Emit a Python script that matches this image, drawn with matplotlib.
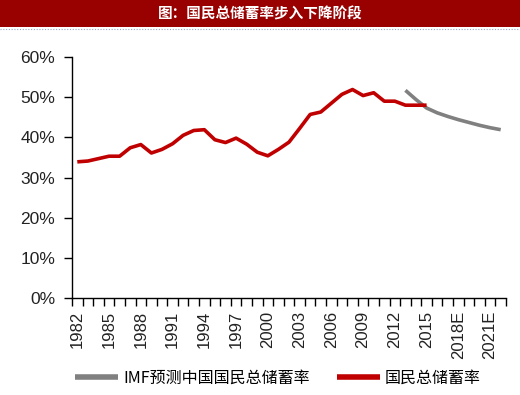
import matplotlib
matplotlib.use("Agg")
import matplotlib.pyplot as plt
from matplotlib.patches import Rectangle
from matplotlib.lines import Line2D
import numpy as np

plt.rcParams['font.family'] = ['Liberation Sans', 'Noto Sans CJK SC', 'DejaVu Sans']

# years 1982 .. 2022 on a category axis
years = list(range(1982, 2023))
tick_years = [1982, 1985, 1988, 1991, 1994, 1997, 2000, 2003, 2006, 2009, 2012, 2015, 2018, 2021]
tick_labels = ['1982', '1985', '1988', '1991', '1994', '1997', '2000', '2003',
               '2006', '2009', '2012', '2015', '2018E', '2021E']

# national gross savings rate, 1982-2015
actual_years = list(range(1982, 2016))
actual = [33.9, 34.1, 34.7, 35.3, 35.3, 37.4, 38.2, 36.1, 37.0, 38.4,
          40.5, 41.7, 41.9, 39.4, 38.7, 39.8, 38.3, 36.3, 35.4, 37.0,
          38.8, 42.2, 45.7, 46.3, 48.5, 50.7, 51.9, 50.4, 51.1, 49.0,
          49.0, 48.0, 48.0, 48.0]

# IMF forecast, 2013-2022
imf_years = list(range(2013, 2023))
imf = [51.7, 49.4, 47.3, 46.1, 45.2, 44.4, 43.7, 43.0, 42.4, 41.9]

fig = plt.figure(figsize=(5.2, 3.95), dpi=100)

# title bar
fig.patches.append(Rectangle((0, 1 - 27 / 395), 1, 27 / 395, transform=fig.transFigure,
                             facecolor='#990000', edgecolor='none', zorder=0))
fig.lines.append(Line2D([0, 1], [1 - 29 / 395, 1 - 29 / 395], transform=fig.transFigure,
                        color='#9aa6c8', lw=0.8, ls=(0, (1, 1.5))))
fig.text(0.5, 1 - 13.5 / 395, '图：国民总储蓄率步入下降阶段', color='white', ha='center', va='center',
         fontsize=10.5, fontweight='bold', family=['Noto Sans CJK SC', 'DejaVu Sans'])

ax = fig.add_axes([72 / 520, 1 - 298 / 395, 434 / 520, 241 / 395])

x_act = [years.index(y) for y in actual_years]
x_imf = [years.index(y) for y in imf_years]
ax.plot(x_imf, np.array(imf) / 100, color='#808080', lw=2.6, label='IMF预测中国国民总储蓄率',
        solid_capstyle='butt')
ax.plot(x_act, np.array(actual) / 100, color='#c00000', lw=2.6, label='国民总储蓄率',
        solid_capstyle='butt')

ax.set_xlim(-0.5, len(years) - 0.5)
ax.set_ylim(0, 0.6)
ax.set_yticks(np.arange(0, 0.61, 0.1))
ax.set_yticklabels([f'{int(round(v * 100))}%' for v in np.arange(0, 0.61, 0.1)], fontsize=12.5,
                   color='#222222')

ax.set_xticks([years.index(y) for y in tick_years])
ax.set_xticklabels(tick_labels, rotation=90, fontsize=12, color='#222222')
ax.set_xticks(np.arange(-0.5, len(years), 1), minor=True)
ax.tick_params(axis='x', which='major', length=0, pad=9)
ax.tick_params(axis='x', which='minor', length=6, width=1, direction='out')
ax.tick_params(axis='y', length=6, width=1, direction='out', pad=6)

for s in ['top', 'right']:
    ax.spines[s].set_visible(False)
ax.spines['left'].set_linewidth(1)
ax.spines['bottom'].set_linewidth(1)

leg = ax.legend(loc='center', bbox_to_anchor=(278 / 520, 1 - 378 / 395), bbox_transform=fig.transFigure,
                ncol=2, frameon=False, handlelength=2.7, columnspacing=1.7, handletextpad=0.3,
                prop={'family': ['Noto Sans CJK SC', 'DejaVu Sans'], 'size': 11.5})
for line in leg.get_lines():
    line.set_linewidth(4)

fig.savefig('out.png', dpi=100)
